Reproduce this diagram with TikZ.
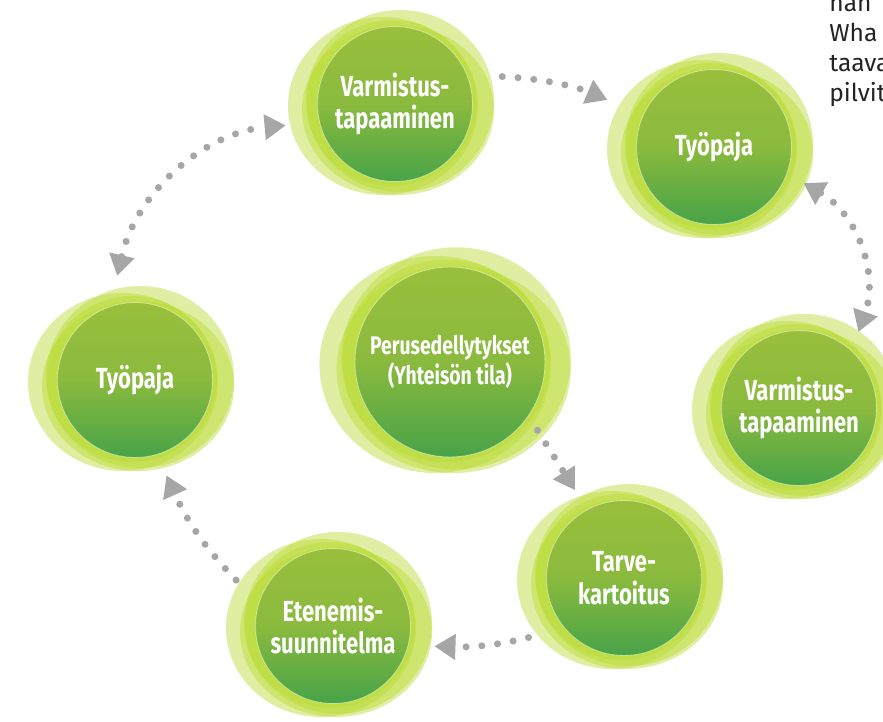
\documentclass[tikz,border=0pt]{standalone}
\usepackage{fontspec}
\newfontfamily\stagefont[FakeStretch=0.76]{Fira Sans}
\newfontfamily\asidefont{Fira Sans}
\usepackage{tikz}
\usetikzlibrary{arrows.meta, backgrounds}
\definecolor{stagetop}{RGB}{153,191,60}
\definecolor{stagemid}{RGB}{138,186,62}
\definecolor{stagebottom}{RGB}{72,163,72}
\definecolor{blobgreen}{RGB}{185,218,50}
\definecolor{flowgray}{RGB}{166,166,166}
\definecolor{asidegray}{RGB}{35,35,35}
\tikzset{
    stage/.style={circle, draw=white, draw opacity=0.45, line width=0.5pt, minimum size=3.1cm, inner sep=0pt, outer sep=0.38cm, top color=stagetop, bottom color=stagebottom, middle color=stagemid, text=white, align=center, font=\stagefont\bfseries\fontsize{16.5}{18.5}\selectfont},
    stagebig/.style={stage, minimum size=3.8cm, outer sep=0.32cm, font=\stagefont\bfseries\fontsize{14.5}{17}\selectfont},
    blob/.style={fill=blobgreen, fill opacity=0.45},
    flowarrow/.style={draw=flowgray, line width=4pt, line cap=round, dash pattern=on 0pt off 9pt, -{Triangle[length=12pt, width=14pt]}},
    flowboth/.style={flowarrow, {Triangle[length=12pt, width=14pt]}-{Triangle[length=12pt, width=14pt]}},
    aside/.style={align=left, inner sep=0pt, text=asidegray, font=\asidefont\fontsize{14}{17}\selectfont},
}

\begin{document}
\begin{tikzpicture}[x=0.02cm, y=0.02cm]
    \useasboundingbox (0,0) rectangle (883,-722);
    \clip (0,0) rectangle (883,-722);

    % === STAGES ===
    \node[stage] (varmtop) at (395,-104) {Varmistus-\\tapaaminen};
    \node[stage] (pajatop) at (714,-147) {Työpaja};
    \node[stage] (pajaleft) at (135,-380) {Työpaja};
    \node[stagebig] (perus) at (450,-362) {Perusedellytykset\\(Yhteisön tila)};
    \node[stage] (varmright) at (799,-408) {Varmistus-\\tapaaminen};
    \node[stage] (tarve) at (624,-578) {Tarve-\\kartoitus};
    \node[stage] (etenemis) at (333,-626) {Etenemis-\\suunnitelma};

    % === CYCLE ===
    \draw[flowarrow, shorten <=0.3cm, shorten >=0.4cm] (varmtop.17) to[bend left=10] (pajatop.156);
    \draw[flowboth] (pajatop.-22) to[bend left=40] (varmright.52);
    \draw[flowarrow, shorten >=0.08cm] (perus.-38) -- (tarve.119);
    \draw[flowarrow, shorten <=0.34cm, shorten >=0.14cm] (tarve.215) to[bend left=8] (etenemis.-12);
    \draw[flowarrow, shorten <=0.23cm, shorten >=0.08cm] (etenemis.157) to[bend left=10] (pajaleft.-72);
    \draw[flowboth, shorten <=0.2cm, shorten >=0.3cm] (pajaleft.102) to[bend left=36] (varmtop.192);

    % text cut by the page edge
    \node[aside, anchor=north west] (aside) at (829,2) {nan\\Wha\\taava\\pilvit};

    % soft rings behind each stage
    \begin{scope}[on background layer]
        \clip (0,0) rectangle (883,-722);
        \foreach \n/\s in {varmtop/1, pajatop/1, pajaleft/1, perus/1.22, varmright/1, tarve/1, etenemis/1}{
            \begin{scope}[shift={(\n.center)}, scale=\s]
                \fill[blob] (-12,-2) ellipse [x radius=95, y radius=89];
                \fill[blob] (5,3) ellipse [x radius=94, y radius=91];
                \fill[blob] (3,-6) ellipse [x radius=96, y radius=85];
                \fill[blob] (-3,1) ellipse [x radius=85, y radius=83];
            \end{scope}
        }
    \end{scope}
\end{tikzpicture}
\end{document}
